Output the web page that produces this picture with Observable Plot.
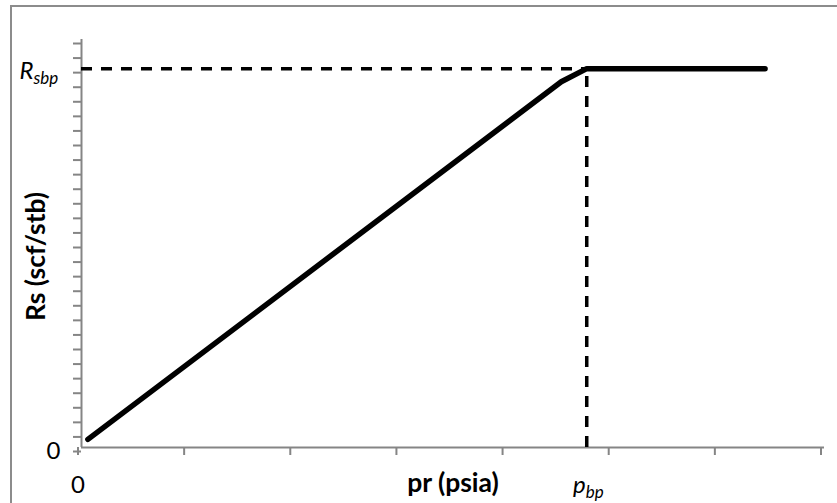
<!DOCTYPE html>
<html>
<head>
<meta charset="utf-8">
<script src="https://cdn.jsdelivr.net/npm/d3@7"></script>
<script src="https://cdn.jsdelivr.net/npm/@observablehq/plot@0.6"></script>
<style>
  html, body { margin: 0; padding: 0; background: #fff; }
  #wrap { position: relative; width: 837px; height: 503px; overflow: hidden; font-family: Lato, "Open Sans", sans-serif; }
  #box { position: absolute; left: 10px; top: 5px; width: 900px; height: 600px; border: 2px solid #8c8c8c; box-sizing: border-box; }
  #chart { position: absolute; left: 0; top: 0; }
</style>
</head>
<body>
<div id="wrap"><div id="box"></div><div id="chart"></div></div>
<script>
// Solution gas-oil ratio versus reservoir pressure
const pr = [30, 2260, 2380, 3220];   // psia
const rs = [28, 1255, 1300, 1300];   // scf/stb
const pbp = 2380;                    // bubble point pressure
const rsbp = 1300;                   // Rs at bubble point
const xDomain = [0, 3500];
const yDomain = [0, 1400];
const xTicks = d3.range(0, 3501, 500);
const yTicks = d3.range(0, 1401, 50);
const zeroLabel = "0";

const axisGray = "#858585";
const curve = pr.map((p, i) => ({pr: p, rs: rs[i]}));

const chart = Plot.plot({
  width: 837,
  height: 503,
  marginLeft: 81,
  marginRight: 13,
  marginTop: 39,
  marginBottom: 56,
  style: {fontFamily: "Lato, 'Open Sans', sans-serif", background: "transparent", overflow: "visible"},
  x: {domain: xDomain},
  y: {domain: yDomain},
  marks: [
    // axis lines
    Plot.ruleX([xDomain[0]], {stroke: axisGray, strokeWidth: 2}),
    Plot.ruleY([yDomain[0]], {stroke: axisGray, strokeWidth: 2}),
    Plot.axisY({ticks: yTicks, tickSize: 8, tickPadding: 13, stroke: axisGray, strokeWidth: 2,
      fill: "black", fontSize: 24, dy: 4, label: null,
      tickFormat: d => d === 0 ? zeroLabel : ""}),
    Plot.axisX({ticks: xTicks, tickSize: 8, tickPadding: 20, stroke: axisGray, strokeWidth: 2,
      fill: "black", fontSize: 24, dx: -3.5, label: null,
      tickFormat: d => d === 0 ? zeroLabel : ""}),
    // bubble point guides
    Plot.ruleY([rsbp], {x1: xDomain[0], x2: pbp, stroke: "black", strokeWidth: 3.5, strokeDasharray: "11,9"}),
    Plot.ruleX([pbp], {y1: yDomain[0], y2: rsbp, stroke: "black", strokeWidth: 3.5, strokeDasharray: "11,9"}),
    // Rs curve
    Plot.line(curve, {x: "pr", y: "rs", stroke: "black", strokeWidth: 5.5, strokeLinecap: "round", strokeLinejoin: "round"}),
    // R_sbp label
    Plot.text([rsbp], {x: xDomain[0], y: d => d, text: () => "R", textAnchor: "end", dx: -48, dy: 2.3,
      fontSize: 24, fontStyle: "italic", fill: "black"}),
    Plot.text([rsbp], {x: xDomain[0], y: d => d, text: () => "sbp", textAnchor: "start", dx: -48, dy: 9.6,
      fontSize: 17, fontStyle: "italic", fill: "black"}),
    // p_bp label
    Plot.text([pbp], {x: d => d, y: yDomain[0], text: () => "p", textAnchor: "end", dx: -1, dy: 38,
      fontSize: 24, fontStyle: "italic", fill: "black"}),
    Plot.text([pbp], {x: d => d, y: yDomain[0], text: () => "bp", textAnchor: "start", dx: -1, dy: 45.5,
      fontSize: 17, fontStyle: "italic", fill: "black"}),
    // axis titles
    Plot.text(["pr (psia)"], {frameAnchor: "bottom", textAnchor: "middle", lineAnchor: "middle", dy: 36.5,
      fontSize: 26.5, fontWeight: "bold", fill: "black"}),
    Plot.text(["Rs (scf/stb)"], {frameAnchor: "left", textAnchor: "middle", lineAnchor: "middle", dx: -44.5, dy: 13,
      rotate: -90, fontSize: 26.5, fontWeight: "bold", fill: "black"})
  ]
});
document.getElementById("chart").appendChild(chart);
</script>
</body>
</html>
